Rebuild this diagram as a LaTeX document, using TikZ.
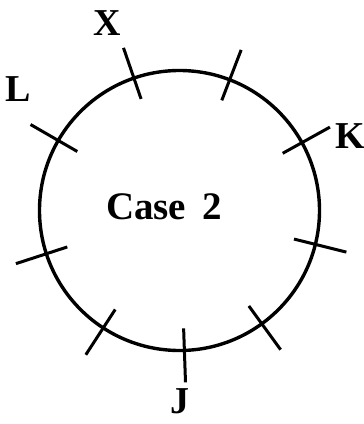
\documentclass[tikz,border=0pt]{standalone}
\usepackage{fontspec}
\setmainfont{Liberation Serif}
\usetikzlibrary{calc,positioning}

\begin{document}
\begin{tikzpicture}[
    x=1pt, y=1pt,
    ring/.style={circle, draw, line width=3.4pt, minimum size=280pt, inner sep=0pt},
    tick/.style={draw, line width=3pt},
    seat/.style={font=\fontsize{38}{40}\selectfont\bfseries, inner sep=0pt},
    caption/.style={font=\fontsize{39}{41}\selectfont\bfseries, inner sep=0pt}
]
\useasboundingbox (0,0) rectangle (364,-424);

% Table
\node[ring] (ring) at (179.5,-210.5) {};
\node[caption] (case) at (164,-207) {Case\, 2};

% Seats
\foreach \a in {29,69,109,150,198,237,272,306,346}
    \draw[tick] ($(ring.center)+(\a:118)$) -- ($(ring.center)+(\a:172)$);

% Names
\node[seat] (x) at ($(ring.center)+(111:201)$) {X};
\node[seat] (l) at ($(ring.center)+(143:202)$) {L};
\node[seat] (k) at ($(ring.center)+(23.5:186)$) {K};
\node[seat] (j) at ($(ring.center)+(270:191)$) {J};

\end{tikzpicture}
\end{document}
